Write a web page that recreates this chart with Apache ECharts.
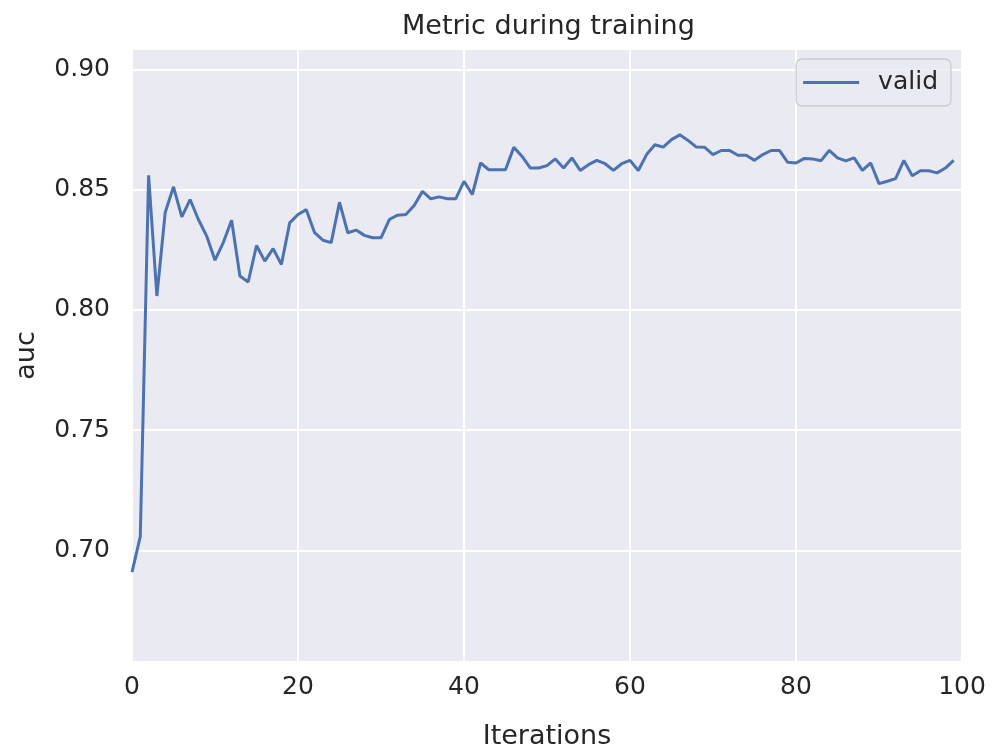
<!DOCTYPE html>
<html>
<head>
<meta charset="utf-8">
<title>Metric during training</title>
<script src="https://cdn.jsdelivr.net/npm/echarts/dist/echarts.min.js"></script>
<style>
  html, body { margin: 0; padding: 0; background: #ffffff; }
  #main { width: 994px; height: 755px; }
</style>
</head>
<body>
<div id="main"></div>
<script>
// data
var iterations = [];
for (var k = 0; k < 100; k++) iterations.push(k);

var validAuc = [
  0.6910, 0.7058, 0.8560, 0.8058, 0.8405, 0.8512, 0.8387, 0.8459, 0.8376, 0.8307,
  0.8207, 0.8280, 0.8373, 0.8141, 0.8116, 0.8268, 0.8203, 0.8255, 0.8189, 0.8362,
  0.8397, 0.8417, 0.8321, 0.8290, 0.8280, 0.8448, 0.8321, 0.8332, 0.8310, 0.8300,
  0.8300, 0.8376, 0.8394, 0.8397, 0.8434, 0.8493, 0.8462, 0.8470, 0.8462, 0.8462,
  0.8535, 0.8480, 0.8611, 0.8583, 0.8583, 0.8583, 0.8676, 0.8638, 0.8590, 0.8590,
  0.8600, 0.8628, 0.8590, 0.8632, 0.8580, 0.8604, 0.8622, 0.8608, 0.8580, 0.8608,
  0.8622, 0.8580, 0.8646, 0.8687, 0.8677, 0.8708, 0.8728, 0.8705, 0.8677, 0.8676,
  0.8646, 0.8663, 0.8663, 0.8643, 0.8643, 0.8622, 0.8646, 0.8663, 0.8663, 0.8614,
  0.8611, 0.8630, 0.8628, 0.8620, 0.8663, 0.8632, 0.8620, 0.8632, 0.8580, 0.8611,
  0.8525, 0.8535, 0.8546, 0.8622, 0.8558, 0.8579, 0.8579, 0.8570, 0.8590, 0.8622
];

var xTicks = [0, 20, 40, 60, 80, 100];
var yTicks = [0.70, 0.75, 0.80, 0.85, 0.90];

var textColor = "#262626";
var font = "DejaVu Sans";

var chart = echarts.init(document.getElementById("main"));

var points = iterations.map(function (it, i) {
  return [it, validAuc[i]];
});

var option = {
  animation: false,
  title: {
    text: "Metric during training",
    left: 397,
    top: 8,
    textStyle: {
      fontFamily: font,
      fontSize: 27,
      fontWeight: "normal",
      color: textColor
    }
  },
  legend: {
    data: ["valid"],
    icon: "rect",
    right: 43,
    top: 59,
    padding: [10, 13, 10, 7],
    itemWidth: 56,
    itemHeight: 3,
    backgroundColor: "rgba(234,234,242,0.85)",
    borderColor: "#cccccc",
    borderWidth: 1.3,
    borderRadius: 6,
    textStyle: {
      fontFamily: font,
      fontSize: 25,
      lineHeight: 27,
      color: textColor,
      padding: [0, 0, 0, 14]
    }
  },
  grid: {
    left: 132,
    right: 32,
    top: 49,
    bottom: 91,
    show: true,
    backgroundColor: "#EAEAF2",
    borderWidth: 0
  },
  xAxis: {
    type: "value",
    min: xTicks[0],
    max: xTicks[xTicks.length - 1],
    interval: 20,
    name: "Iterations",
    nameLocation: "middle",
    nameGap: 61,
    nameTextStyle: { fontFamily: font, fontSize: 27, color: textColor },
    axisLine: { show: false },
    axisTick: { show: false },
    axisLabel: {
      margin: 13,
      fontFamily: font,
      fontSize: 25,
      color: textColor
    },
    splitLine: { show: true, lineStyle: { color: "#ffffff", width: 2 } }
  },
  yAxis: {
    type: "value",
    min: 0.6536,
    max: 0.9085,
    splitNumber: 5,
    name: "auc",
    nameLocation: "middle",
    nameGap: 92,
    nameTextStyle: { fontFamily: font, fontSize: 27, color: textColor },
    axisLine: { show: false },
    axisTick: { show: false },
    axisLabel: {
      margin: 22,
      fontFamily: font,
      fontSize: 25,
      color: textColor,
      showMinLabel: false,
      showMaxLabel: false,
      formatter: function (v) {
        for (var i = 0; i < yTicks.length; i++) {
          if (Math.abs(v - yTicks[i]) < 1e-6) return yTicks[i].toFixed(2);
        }
        return "";
      }
    },
    splitLine: { show: true, lineStyle: { color: "#ffffff", width: 2 } }
  },
  series: [
    {
      name: "valid",
      type: "line",
      data: points,
      symbol: "none",
      lineStyle: { color: "#4C72B0", width: 3 },
      itemStyle: { color: "#4C72B0" }
    }
  ]
};

chart.setOption(option);
</script>
</body>
</html>
